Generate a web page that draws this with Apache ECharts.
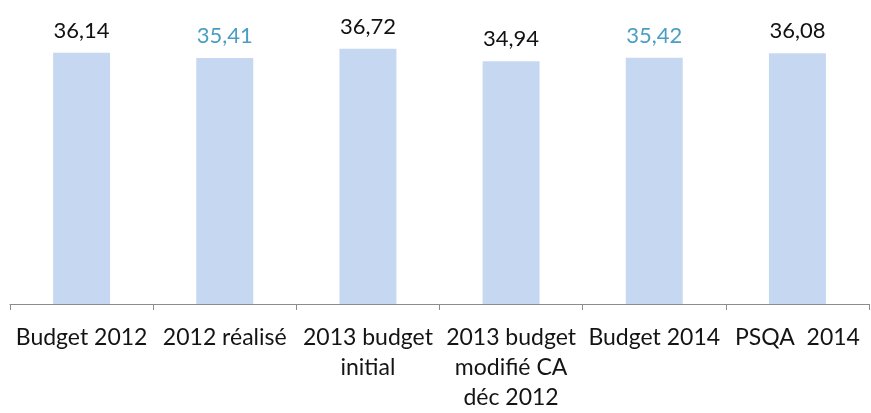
<!DOCTYPE html>
<html>
<head>
<meta charset="utf-8">
<script src="https://cdn.jsdelivr.net/npm/echarts@6/dist/echarts.min.js"></script>
<style>html,body{margin:0;padding:0;background:#fff;}#c{width:871px;height:413px;}</style>
</head>
<body>
<div id="c"></div>
<script>
const categories = ["Budget 2012", "2012 réalisé", "2013 budget\ninitial", "2013 budget\nmodifié CA\ndéc 2012", "Budget 2014", "PSQA  2014"];
const values = [36.14, 35.41, 36.72, 34.94, 35.42, 36.08];
const valueLabels = ["36,14", "35,41", "36,72", "34,94", "35,42", "36,08"];

const blueLabelIdx = [1, 4];
const chart = echarts.init(document.getElementById('c'));
chart.setOption({
  backgroundColor: '#ffffff',
  animation: false,
  grid: { left: 10, right: 2, top: 26, bottom: 102 },
  xAxis: {
    type: 'category',
    data: categories,
    axisLine: { lineStyle: { color: '#8c8c8c', width: 1 } },
    axisTick: { show: true, length: 6, lineStyle: { color: '#8c8c8c' } },
    axisLabel: { interval: 0, color: '#141414', fontFamily: 'Lato', fontSize: 23, lineHeight: 30, margin: 19 }
  },
  yAxis: { type: 'value', min: 0, max: 40, show: false, splitLine: { show: false } },
  series: [{
    type: 'bar',
    barWidth: 57,
    itemStyle: { color: '#c6d8f1' },
    data: values.map((v, i) => ({
      value: v,
      label: { color: blueLabelIdx.includes(i) ? '#4a9ec2' : '#111111' }
    })),
    label: {
      show: true,
      position: 'top',
      distance: 11,
      fontFamily: 'Lato',
      fontSize: 22,
      formatter: p => valueLabels[p.dataIndex]
    }
  }]
});
</script>
</body>
</html>
